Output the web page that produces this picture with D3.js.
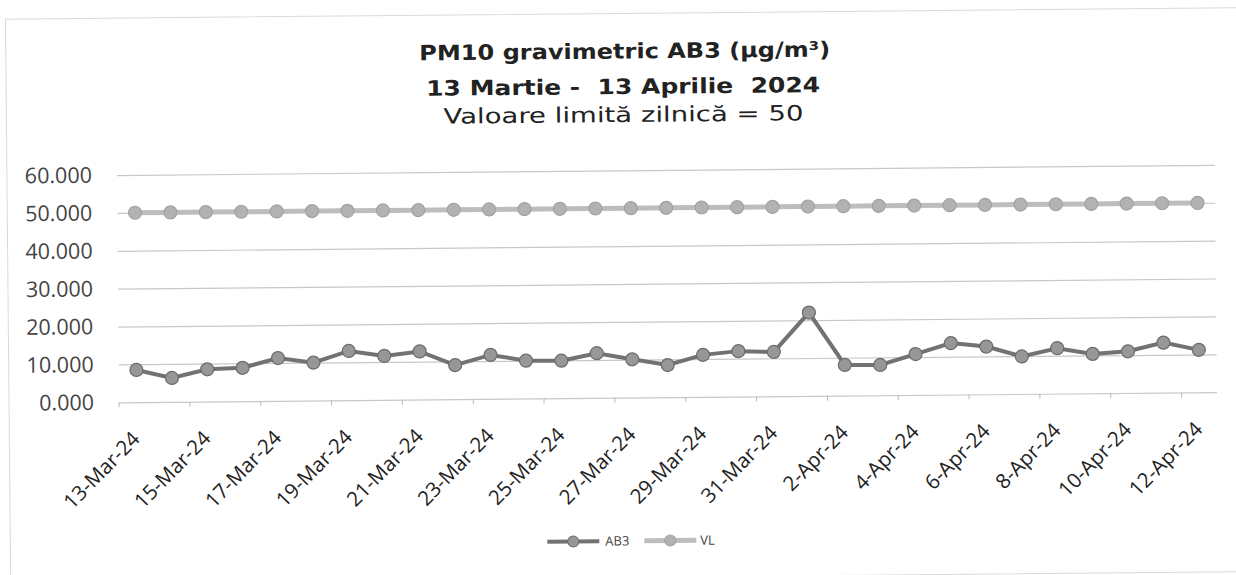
<!DOCTYPE html>
<html><head><meta charset="utf-8">
<script src="https://cdn.jsdelivr.net/npm/d3@7"></script>
<style>
html,body{margin:0;padding:0;background:#fff;}
svg{display:block;}
.title{white-space:pre;}
</style></head>
<body>
<svg id="chart" width="1236" height="575"></svg>
<script>
const dates = ["13-Mar-24","14-Mar-24","15-Mar-24","16-Mar-24","17-Mar-24","18-Mar-24","19-Mar-24","20-Mar-24","21-Mar-24","22-Mar-24","23-Mar-24","24-Mar-24","25-Mar-24","26-Mar-24","27-Mar-24","28-Mar-24","29-Mar-24","30-Mar-24","31-Mar-24","1-Apr-24","2-Apr-24","3-Apr-24","4-Apr-24","5-Apr-24","6-Apr-24","7-Apr-24","8-Apr-24","9-Apr-24","10-Apr-24","11-Apr-24","12-Apr-24"];
const ab3 = [8.5,6.3,8.5,8.8,11.3,10.0,13.0,11.6,12.7,9.0,11.6,10.0,9.9,11.8,10.1,8.5,11.1,12.0,11.7,22.0,8.1,8.0,10.8,13.6,12.6,9.9,12.0,10.4,11.0,13.2,11.2];
const vl = [50,50,50,50,50,50,50,50,50,50,50,50,50,50,50,50,50,50,50,50,50,50,50,50,50,50,50,50,50,50,50];
const yTicks = [0,10,20,30,40,50,60];
const titleLines = ["PM10 gravimetric AB3 (µg/m³)","13 Martie -  13 Aprilie  2024","Valoare limită zilnică = 50"];
const seriesNames = ["AB3","VL"];

const svg = d3.select("#chart");
const root = svg.append("g").attr("transform","rotate(-0.53,618,290)");

// scan frame
root.append("rect").attr("x",8).attr("y",13.5).attr("width",1240).attr("height",564)
  .attr("fill","none").attr("stroke","#dadada").attr("stroke-width",1);

const left=118, right=1216;
const x = d3.scaleBand().domain(dates).range([left,right]).padding(0);
const y = d3.scaleLinear().domain([0,60]).range([397.7,170.4]);
const bw = x.bandwidth();
const cx = d => x(d)+bw/2;

// gridlines
root.append("g").attr("transform",`translate(${left},0)`)
  .call(d3.axisLeft(y).tickValues(yTicks).tickSize(-(right-left)).tickFormat(""))
  .call(g=>g.select(".domain").remove())
  .call(g=>g.selectAll("line").attr("stroke","#c8c8c8").attr("stroke-width",1.2));

// y labels
root.append("g").attr("transform",`translate(${left},0)`)
  .call(d3.axisLeft(y).tickValues(yTicks).tickSize(0).tickPadding(25).tickFormat(d3.format(".3f")))
  .call(g=>g.select(".domain").remove())
  .call(g=>g.selectAll("text").attr("font-family","'Open Sans', sans-serif").attr("font-size",21.5).attr("fill","#444"));

// x tick marks at band boundaries every 2 categories
const tickDates = dates.filter((d,i)=>i%2===0);
root.append("g").selectAll("line").data(tickDates).join("line")
  .attr("x1",d=>x(d)).attr("x2",d=>x(d))
  .attr("y1",y(0)).attr("y2",y(0)+5)
  .attr("stroke","#bbb").attr("stroke-width",1);

// x labels
const xa = root.append("g").attr("transform",`translate(0,${y(0)})`)
  .call(d3.axisBottom(x).tickValues(tickDates).tickSize(0).tickPadding(0))
  .call(g=>g.select(".domain").remove());
xa.selectAll("text")
  .attr("font-family","'Open Sans', sans-serif").attr("font-size",20.5).attr("fill","#222")
  .attr("text-anchor","end").attr("dy",null).attr("y",null)
  .attr("transform","translate(4,38) rotate(-45)");

const line = d3.line().x((d,i)=>cx(dates[i])).y(d=>y(d));

// VL
root.append("path").datum(vl).attr("d",line).attr("fill","none")
  .attr("stroke","#bdbdbd").attr("stroke-width",5);
root.append("g").selectAll("circle").data(vl).join("circle")
  .attr("cx",(d,i)=>cx(dates[i])).attr("cy",d=>y(d)).attr("r",6.5)
  .attr("fill","#b2b2b2").attr("stroke","#a2a2a2").attr("stroke-width",1.2);

// AB3
root.append("path").datum(ab3).attr("d",line).attr("fill","none")
  .attr("stroke","#727272").attr("stroke-width",4);
root.append("g").selectAll("circle").data(ab3).join("circle")
  .attr("cx",(d,i)=>cx(dates[i])).attr("cy",d=>y(d)).attr("r",6.5)
  .attr("fill","#979797").attr("stroke","#6c6c6c").attr("stroke-width",1.2);

// title
const tw = ["bold","bold","normal"];
const ty = [58.5,94,122];
const tx = [627,625,625];
const tl = [411,394,360];
root.append("g").selectAll("text").data(titleLines).join("text")
  .attr("class","title")
  .attr("x",(d,i)=>tx[i]).attr("y",(d,i)=>ty[i]).attr("text-anchor","middle")
  .attr("font-family","'DejaVu Sans', sans-serif").attr("font-size",21)
  .attr("font-weight",(d,i)=>tw[i]).attr("fill","#222")
  .attr("textLength",(d,i)=>tl[i]).attr("lengthAdjust","spacingAndGlyphs")
  .text(d=>d);

// legend
const leg = root.append("g").attr("transform","translate(0,541)");
const legItems = [
  {name:seriesNames[0], x0:545, line:"#727272", lw:4, fill:"#979797", st:"#6c6c6c", tx:603},
  {name:seriesNames[1], x0:642, line:"#bdbdbd", lw:5, fill:"#b2b2b2", st:"#a2a2a2", tx:698}
];
legItems.forEach(it=>{
  leg.append("line").attr("x1",it.x0).attr("x2",it.x0+52).attr("y1",0).attr("y2",0)
    .attr("stroke",it.line).attr("stroke-width",it.lw);
  leg.append("circle").attr("cx",it.x0+26).attr("cy",0).attr("r",5.5)
    .attr("fill",it.fill).attr("stroke",it.st).attr("stroke-width",1);
  leg.append("text").attr("x",it.tx).attr("y",0).attr("dy","0.35em")
    .attr("font-family","'Open Sans', sans-serif").attr("font-size",13).attr("fill","#444").text(it.name);
});
</script>
</body></html>
